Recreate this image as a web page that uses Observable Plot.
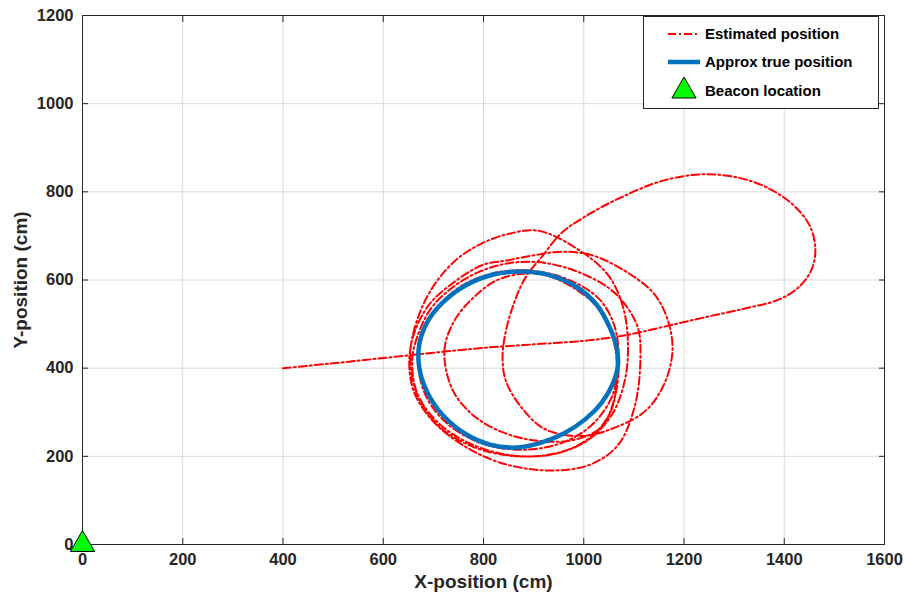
<!DOCTYPE html>
<html>
<head>
<meta charset="utf-8">
<script src="https://cdn.jsdelivr.net/npm/d3@7"></script>
<script src="https://cdn.jsdelivr.net/npm/@observablehq/plot@0.6"></script>
<style>
  html, body { margin: 0; padding: 0; background: white; }
  #wrap { position: relative; width: 904px; height: 598px; overflow: hidden; }
  #legend { position: absolute; left: 643px; top: 16px; }
</style>
</head>
<body>
<div id="wrap"></div>
<script>
// ---- data ----
const xTicks = [0, 200, 400, 600, 800, 1000, 1200, 1400, 1600];
const yTicks = [0, 200, 400, 600, 800, 1000, 1200];

// Estimated position (cm)
const estX = [400, 500, 600, 700, 800, 900, 1000, 1080, 1160, 1240, 1320, 1390,
  1430, 1455, 1462, 1450, 1410, 1340, 1250, 1160, 1070, 1000, 955, 918, 884, 860, 843, 838, 845, 875, 922, 994, 1062, 1125, 1162, 1177, 1168, 1140, 1080, 1014, 955, 900, 850, 798, 740, 692, 662, 652,
  660, 695, 755, 835, 928, 1010, 1068, 1102, 1113, 1108, 1080, 1046, 980, 914, 850, 790, 738, 695, 668, 658,
  667, 708, 775, 858, 940, 1010, 1058, 1083, 1088, 1078, 1048, 985, 908, 848, 795, 750, 712, 680, 658, 654,
  666, 708, 778, 868, 955, 1015, 1055, 1066, 1060, 1032, 980, 924, 884, 826, 780, 742, 722, 739, 785, 844, 904, 975, 1035,
  1062, 1070, 1060, 1028, 960, 880, 808, 745, 695, 670, 682, 722, 790, 870, 950, 1015, 1058, 1068];
const estY = [400, 411, 423, 435, 446, 454, 462, 474, 494, 515, 535, 556,
  585, 625, 672, 725, 778, 822, 840, 826, 785, 742, 706, 655, 606, 545, 475, 420, 370, 312, 262, 246, 265, 305, 368, 440, 508, 569, 622, 657, 664, 656, 645, 634, 594, 545, 480, 420,
  350, 285, 228, 185, 168, 180, 225, 315, 420, 492, 548, 585, 622, 640, 638, 618, 583, 535, 472, 420,
  345, 278, 228, 202, 205, 238, 298, 378, 460, 540, 612, 672, 712, 704, 682, 650, 605, 545, 470, 420,
  345, 272, 222, 200, 210, 245, 305, 385, 460, 532, 582, 611, 615, 599, 560, 508, 440, 349, 288, 252, 236, 236, 266,
  335, 420, 500, 560, 605, 622, 612, 578, 515, 430, 345, 280, 232, 215, 228, 270, 340, 420];

// Approx true position (cm)
const trueX = [878, 935, 982, 1025, 1052, 1066, 1068, 1058, 1036, 1004, 962, 915, 868, 815, 765, 720, 688, 672, 672, 688, 718, 765, 822];
const trueY = [619, 610, 587, 545, 492, 445, 405, 365, 322, 285, 253, 231, 220, 226, 250, 292, 345, 400, 455, 505, 548, 588, 613];

const beaconX = [0];
const beaconY = [0];

const legendLabels = ["Estimated position", "Approx true position", "Beacon location"];

// ---- build ----
const est = estX.map((x, i) => ({x, y: estY[i]}));
const tru = trueX.map((x, i) => ({x, y: trueY[i]}));
const beacon = beaconX.map((x, i) => ({x, y: beaconY[i]}));

const RED = "#ff0000", BLUE = "#0072BD", INK = "#262626";
const FONT = "'Liberation Sans', Arial, Helvetica, sans-serif";

const chart = Plot.plot({
  width: 904, height: 598,
  marginLeft: 82, marginRight: 20, marginTop: 15, marginBottom: 54,
  style: {fontFamily: FONT, fontSize: "16.5px", fontWeight: "bold", color: INK, background: "white", overflow: "visible"},
  x: {domain: [0, 1600]},
  y: {domain: [0, 1200]},
  marks: [
    Plot.gridX(xTicks, {stroke: "#dadada", strokeOpacity: 1, strokeWidth: 1}),
    Plot.gridY(yTicks, {stroke: "#dadada", strokeOpacity: 1, strokeWidth: 1}),
    Plot.axisX(xTicks, {anchor: "bottom", tickSize: 0, tickPadding: 9, label: null, tickFormat: d => String(d)}),
    Plot.axisY(yTicks, {anchor: "left", tickSize: 0, tickPadding: 9, label: null, tickFormat: d => String(d)}),
    Plot.axisX(xTicks, {anchor: "bottom", tickSize: -6, label: null, tickFormat: () => ""}),
    Plot.axisX(xTicks, {anchor: "top", tickSize: -6, label: null, tickFormat: () => ""}),
    Plot.axisY(yTicks, {anchor: "left", tickSize: -6, label: null, tickFormat: () => ""}),
    Plot.axisY(yTicks, {anchor: "right", tickSize: -6, label: null, tickFormat: () => ""}),
    Plot.frame({stroke: INK, strokeWidth: 1}),
    Plot.line(est, {x: "x", y: "y", stroke: RED, strokeWidth: 2, strokeDasharray: "8,3,2,3", curve: "catmull-rom"}),
    Plot.line(tru, {x: "x", y: "y", stroke: BLUE, strokeWidth: 4.5, curve: "catmull-rom-closed"}),
    Plot.dot(beacon, {x: "x", y: "y", symbol: "triangle", r: 9, fill: "#00ff00", stroke: "black", strokeWidth: 1}),
    Plot.text(["X-position (cm)"], {frameAnchor: "bottom", dy: 37, lineAnchor: "middle", textAnchor: "middle", fontSize: 19, fontWeight: "bold", fill: INK}),
    Plot.text(["Y-position (cm)"], {frameAnchor: "left", dx: -62, rotate: -90, lineAnchor: "middle", textAnchor: "middle", fontSize: 19, fontWeight: "bold", fill: INK})
  ]
});
document.getElementById("wrap").appendChild(chart);

// ---- legend ----
const lg = d3.select("#wrap").append("svg").attr("id", "legend")
  .attr("width", 237).attr("height", 94)
  .style("font-family", FONT);
lg.append("rect").attr("x", 0.5).attr("y", 0.5).attr("width", 235).attr("height", 92)
  .attr("fill", "white").attr("stroke", INK);
const rows = [18, 46, 75];
lg.append("line").attr("x1", 25).attr("x2", 57).attr("y1", rows[0]).attr("y2", rows[0])
  .attr("stroke", RED).attr("stroke-width", 2).attr("stroke-dasharray", "8,3,2,3");
lg.append("line").attr("x1", 25).attr("x2", 57).attr("y1", rows[1]).attr("y2", rows[1])
  .attr("stroke", BLUE).attr("stroke-width", 4.5);
lg.append("path").attr("d", d3.symbol(d3.symbolTriangle, Math.PI * 81)())
  .attr("transform", `translate(41,${rows[2]})`)
  .attr("fill", "#00ff00").attr("stroke", "black");
legendLabels.forEach((t, i) => {
  lg.append("text").attr("x", 62).attr("y", rows[i]).attr("dy", "0.35em")
    .attr("font-size", 15).attr("font-weight", "bold").attr("fill", "black").text(t);
});
</script>
</body>
</html>
